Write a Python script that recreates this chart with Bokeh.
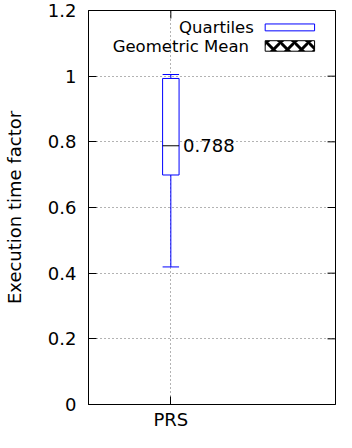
import math
from bokeh.plotting import figure
from bokeh.models import (Range1d, FixedTicker, BoxAnnotation, Label,
                          ColumnDataSource)
from bokeh.embed import file_html
from bokeh.resources import INLINE

# ---- data ----
categories = ["PRS"]
whisker_low = [0.419]
q1 = [0.699]
q3 = [0.993]
whisker_high = [1.005]
geo_mean = [0.788]
y_ticks = [0, 0.2, 0.4, 0.6, 0.8, 1, 1.2]
y_tick_labels = ["0", "0.2", "0.4", "0.6", "0.8", "1", "1.2"]
legend_labels = ["Quartiles", "Geometric Mean"]

FONT = "DejaVu Sans"
FS = "18px"
LFS = "16.5px"
BLUE = "#0000ff"

X0, X1 = 0.5, 2.0
Y0, Y1 = 0, 1.2

xpos = [i + 1 for i in range(len(categories))]
half = 0.05
src = ColumnDataSource(dict(
    x=xpos, lo=whisker_low, q1=q1, q3=q3, hi=whisker_high, gm=geo_mean,
    xl=[x - half for x in xpos], xr=[x + half for x in xpos],
    gm_txt=["%.3f" % g for g in geo_mean],
))

p = figure(output_backend="svg", toolbar_location=None,
           width=336, height=432,
           x_range=Range1d(X0, X1), y_range=Range1d(Y0, Y1),
           min_border_left=82, min_border_right=1, min_border_top=10,
           min_border_bottom=26)
p.outline_line_color = "black"
p.outline_line_width = 1
p.background_fill_color = "white"
p.border_fill_color = "white"

# axes
p.yaxis.ticker = FixedTicker(ticks=y_ticks)
p.yaxis.major_label_overrides = dict(zip(y_ticks, y_tick_labels))
p.xaxis.ticker = FixedTicker(ticks=xpos)
p.xaxis.major_label_overrides = dict(zip(xpos, categories))
for ax in (p.xaxis[0], p.yaxis[0]):
    ax.major_tick_in = 8
    ax.major_tick_out = 0
    ax.minor_tick_line_color = None
    ax.axis_line_color = "black"
    ax.major_tick_line_color = "black"
    ax.major_label_text_font = FONT
    ax.major_label_text_font_size = FS
    ax.major_label_text_color = "black"
    ax.axis_label_text_font = FONT
    ax.axis_label_text_font_size = FS
    ax.axis_label_text_font_style = "normal"
    ax.axis_label_text_color = "black"
p.yaxis.major_label_standoff = 12
p.xaxis.major_label_standoff = 4
p.yaxis.axis_label = "Execution time factor"
p.yaxis.axis_label_standoff = 20

# mirror ticks (right and top borders)
p.ray(x=[X1] * len(y_ticks), y=y_ticks, length=8, length_units="screen",
      angle=math.pi, line_color="black", line_width=1)
p.ray(x=xpos, y=[Y1] * len(xpos), length=8, length_units="screen",
      angle=-math.pi / 2, line_color="black", line_width=1)

# grid
p.xgrid.ticker = FixedTicker(ticks=xpos)
p.ygrid.ticker = FixedTicker(ticks=y_ticks)
for g in (p.xgrid[0], p.ygrid[0]):
    g.grid_line_color = "black"
    g.grid_line_alpha = 0.6
    g.grid_line_dash = "1 3"
    g.grid_line_width = 1

# box plot
p.segment("x", "q3", "x", "hi", source=src, line_color=BLUE, line_width=1)
p.segment("x", "lo", "x", "q1", source=src, line_color=BLUE, line_width=1)
p.segment("xl", "hi", "xr", "hi", source=src, line_color=BLUE, line_width=1)
p.segment("xl", "lo", "xr", "lo", source=src, line_color=BLUE, line_width=1)
p.quad(left="xl", right="xr", bottom="q1", top="q3", source=src,
       fill_color="white", line_color=BLUE, line_width=1)
p.segment("xl", "gm", "xr", "gm", source=src, line_color="black", line_width=1)
p.text("xr", "gm", text="gm_txt", source=src, x_offset=4,
       text_font={"value": FONT}, text_font_size={"value": FS},
       text_baseline="middle", text_align="left", text_color="black")

# legend (drawn as annotations)
leg_text_x = [1.504, 1.475]
leg_y = [1.147, 1.091]
for tx, ty, lab in zip(leg_text_x, leg_y, legend_labels):
    p.add_layout(Label(x=tx, y=ty, text=lab,
                       text_font=FONT, text_font_size=LFS, text_align="right",
                       text_baseline="middle", text_color="black"))
p.add_layout(BoxAnnotation(left=1.573, right=1.873, bottom=1.138, top=1.159,
                           fill_color="white", fill_alpha=1, line_color=BLUE,
                           line_width=1, line_alpha=1))
p.add_layout(BoxAnnotation(left=1.573, right=1.873, bottom=1.076, top=1.108,
                           fill_color="white", fill_alpha=1, line_color="black",
                           line_width=1, line_alpha=1, hatch_pattern="x",
                           hatch_color="black", hatch_scale=14, hatch_weight=3,
                           hatch_alpha=1))

open("out.html", "w").write(file_html(p, INLINE))
